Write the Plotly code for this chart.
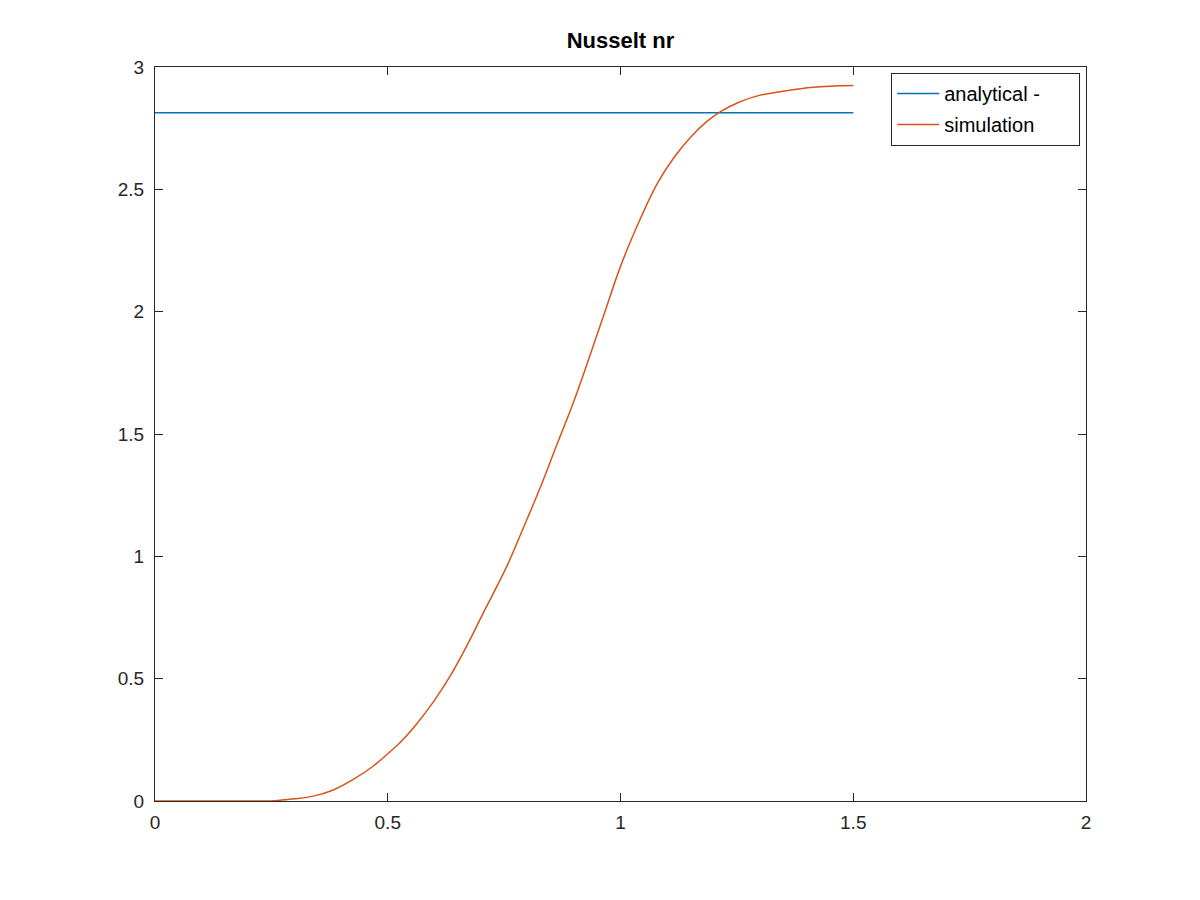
import plotly.graph_objects as go

# simulation curve
sim_x = [0.0, 0.1, 0.2, 0.25, 0.2685, 0.30, 0.34, 0.383, 0.426, 0.469, 0.505, 0.526,
         0.562, 0.598, 0.634, 0.670, 0.705, 0.756, 0.791, 0.827, 0.863, 0.899,
         0.927, 0.963, 0.999, 1.035, 1.078, 1.113, 1.149, 1.185, 1.214, 1.257, 1.300,
         1.343, 1.414, 1.5]
sim_y = [0.0, 0.0, 0.0, 0.0, 0.003, 0.009, 0.020, 0.045, 0.088, 0.143, 0.2015, 0.238,
         0.315, 0.405, 0.510, 0.635, 0.768, 0.960, 1.115, 1.278, 1.455, 1.630,
         1.780, 1.980, 2.180, 2.347, 2.520, 2.625, 2.710, 2.777, 2.817, 2.858, 2.885,
         2.899, 2.917, 2.924]

# analytical value
ana_x = [0.0, 1.5]
ana_y = [2.813, 2.813]

x_ticks = [0, 0.5, 1, 1.5, 2]
x_labels = ["0", "0.5", "1", "1.5", "2"]
y_ticks = [0, 0.5, 1, 1.5, 2, 2.5, 3]
y_labels = ["0", "0.5", "1", "1.5", "2", "2.5", "3"]

FONT = "Liberation Sans, Arial, sans-serif"
PAD = "\u00a0" * 6

fig = go.Figure()
fig.add_trace(go.Scatter(x=ana_x, y=ana_y, mode="lines", name="analytical -" + PAD,
                         legendgroup="a",
                         line=dict(color="#0072BD", width=1.5)))
fig.add_trace(go.Scatter(x=sim_x, y=sim_y, mode="lines", name="simulation",
                         legendgroup="b",
                         line=dict(color="#D95319", width=1.5, shape="spline", smoothing=1.0)))

axis_common = dict(showgrid=False, zeroline=False, showline=True, mirror="ticks",
                   linecolor="#262626", linewidth=1.2, ticks="inside", ticklen=8,
                   tickcolor="#262626", tickwidth=1.2,
                   tickfont=dict(family=FONT, size=19, color="#262626"))

fig.update_layout(
    width=1200, height=900,
    paper_bgcolor="white", plot_bgcolor="white",
    margin=dict(l=147, r=122, t=59, b=107),
    title=dict(text="<b>Nusselt nr</b>", x=0.5104, xanchor="center", y=0.9644, yanchor="middle",
               font=dict(family=FONT, size=22, color="black")),
    xaxis=dict(range=[0, 2], tickvals=x_ticks, ticktext=x_labels, ticklabelstandoff=4, **axis_common),
    yaxis=dict(range=[0, 3], tickvals=y_ticks, ticktext=y_labels, ticklabelstandoff=6, **axis_common),
    legend=dict(x=0.9936, y=0.992, xanchor="right", yanchor="top",
                bgcolor="white", bordercolor="#262626", borderwidth=1.2,
                font=dict(family=FONT, size=20, color="black"),
                tracegroupgap=2, itemwidth=42),
    showlegend=True,
)

fig.write_html("out.html")
